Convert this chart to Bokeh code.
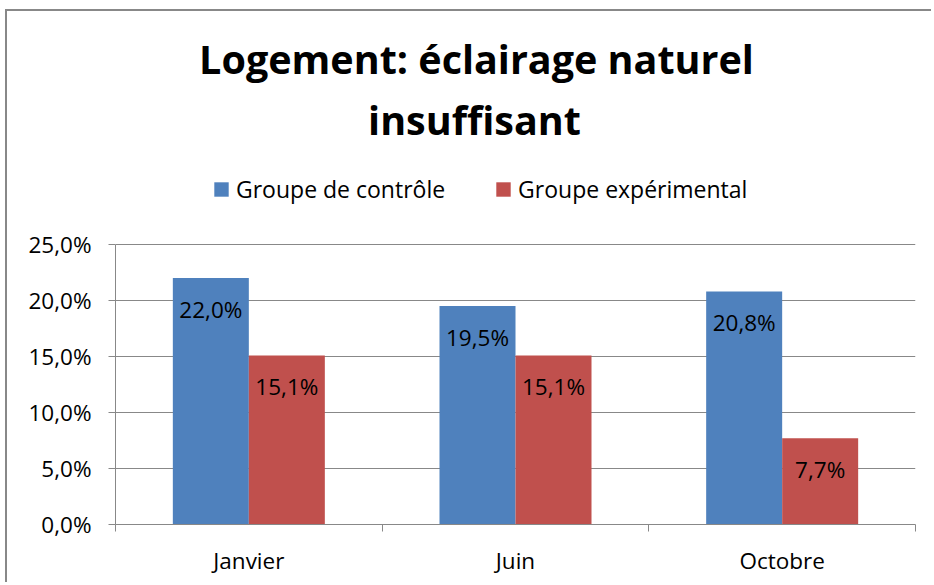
import numpy as np
from bokeh.plotting import figure
from bokeh.models import (ColumnDataSource, Range1d, FixedTicker, Label, Legend, LegendItem)
from bokeh.core.properties import value
from bokeh.embed import file_html
from bokeh.resources import INLINE

# ---- data ----
categories = ["Janvier", "Juin", "Octobre"]
series_names = ["Groupe de contrôle", "Groupe expérimental"]
controle = [22.0, 19.5, 20.8]
experimental = [15.1, 15.1, 7.7]
y_ticks = [0, 5, 10, 15, 20, 25]
title_lines = ["Logement: éclairage naturel", "insuffisant"]

FONT = "Open Sans"
BLUE = "#4F81BD"
RED = "#C0504D"
GRAY = "#888888"
LAB_SIZE = "22.5px"

def fmt(v):
    return f"{v:.1f}%".replace(".", ",")

centers = np.arange(len(categories)) + 0.5
bw = 0.285
src_c = ColumnDataSource(dict(x=centers - bw / 2, top=controle, lab=[fmt(v) for v in controle]))
src_e = ColumnDataSource(dict(x=centers + bw / 2, top=experimental, lab=[fmt(v) for v in experimental]))

# frame spans almost the whole canvas so that title/legend sit inside it;
# the value axis keeps 11.2 px per percent point
FRAME_H = 509
p = figure(width=926, height=573, output_backend="svg", toolbar_location=None,
           x_range=Range1d(0, len(categories)), y_range=Range1d(0, FRAME_H / 11.2),
           min_border_left=108, min_border_right=18, min_border_top=4, min_border_bottom=60)
p.title = None
p.outline_line_color = None
p.background_fill_color = "white"
p.border_fill_color = "white"
p.styles = {"margin-left": "5px", "margin-top": "9px",
            "border-left": f"2px solid {GRAY}", "border-top": f"2px solid {GRAY}"}

r1 = p.vbar(x="x", top="top", width=bw, bottom=0, source=src_c, fill_color=BLUE, line_color=None)
r2 = p.vbar(x="x", top="top", width=bw, bottom=0, source=src_e, fill_color=RED, line_color=None)

for src in (src_c, src_e):
    p.text(x="x", y="top", text="lab", source=src, text_align="center", text_baseline="middle",
           y_offset=31, text_font=value(FONT), text_font_size=LAB_SIZE, text_color="black")

# axes
yax = p.yaxis[0]
yax.ticker = FixedTicker(ticks=y_ticks)
yax.bounds = (y_ticks[0], y_ticks[-1])
yax.major_label_overrides = {t: fmt(float(t)) for t in y_ticks}
yax.axis_line_color = GRAY
yax.major_tick_line_color = GRAY
yax.major_tick_out = 7
yax.major_tick_in = 0
yax.minor_tick_line_color = None
yax.major_label_text_font = FONT
yax.major_label_text_font_size = LAB_SIZE
yax.major_label_text_color = "black"
yax.major_label_standoff = 17

xax = p.xaxis[0]
xax.ticker = FixedTicker(ticks=list(centers), minor_ticks=list(range(len(categories) + 1)))
xax.major_label_overrides = {float(c): name for c, name in zip(centers, categories)}
xax.axis_line_color = GRAY
xax.major_tick_line_color = None
xax.major_tick_out = 0
xax.major_tick_in = 0
xax.minor_tick_line_color = GRAY
xax.minor_tick_out = 7
xax.minor_tick_in = 0
xax.major_label_text_font = FONT
xax.major_label_text_font_size = LAB_SIZE
xax.major_label_text_color = "black"
xax.major_label_standoff = 13

p.xgrid.grid_line_color = None
p.ygrid.ticker = FixedTicker(ticks=y_ticks)
p.ygrid.grid_line_color = GRAY
p.ygrid.grid_line_width = 1

# title (frame-relative screen coords, origin bottom-left of frame)
p.add_layout(Label(x=361, y=466, x_units="screen", y_units="screen", text=title_lines[0],
                   text_align="center", text_baseline="alphabetic", text_font=FONT,
                   text_font_size="39.5px", text_font_style="bold", text_color="black"))
p.add_layout(Label(x=359, y=405, x_units="screen", y_units="screen", text=title_lines[1],
                   text_align="center", text_baseline="alphabetic", text_font=FONT,
                   text_font_size="39.5px", text_font_style="bold", text_color="black"))

legend = Legend(items=[LegendItem(label=series_names[0], renderers=[r1]),
                       LegendItem(label=series_names[1], renderers=[r2])],
                orientation="horizontal", location=(97, 319),
                glyph_width=18, glyph_height=18, label_standoff=6, spacing=49,
                padding=0, margin=0, border_line_color=None, background_fill_alpha=0,
                label_text_font=FONT, label_text_font_size="23px", label_text_color="black",
                label_height=18)
p.add_layout(legend, "center")

open("out.html", "w").write(file_html(p, INLINE))
